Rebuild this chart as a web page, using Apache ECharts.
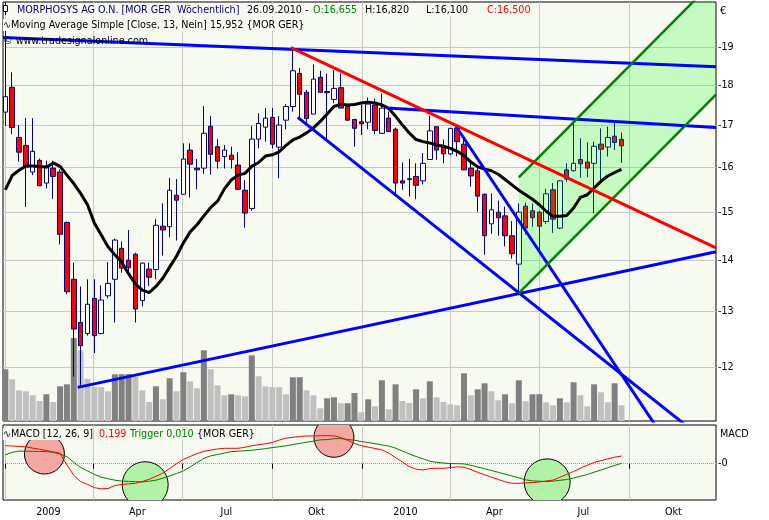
<!DOCTYPE html>
<html>
<head>
<meta charset="utf-8">
<script src="https://cdn.jsdelivr.net/npm/echarts@6.0.0/dist/echarts.min.js"></script>
<style>
html,body{margin:0;padding:0;background:#ffffff;}
#chart{width:769px;height:520px;}
</style>
</head>
<body>
<div id="chart"></div>
<script>
// ---------------- data (weekly bars, MORPHOSYS AG, MOR GER) ----------------
const firstWeek = '2009-01-01';
const open = [17.32,17.95,16.70,16.51,15.89,16.16,15.64,15.98,15.89,14.78,
  13.62,12.80,12.60,13.25,12.60,13.30,13.62,14.24,14.00,14.12,
  13.21,13.82,13.81,14.70,14.69,15.37,15.39,16.40,15.98,15.98,
  16.97,16.48,16.25,16.28,16.05,15.48,15.08,16.66,16.95,17.19,
  16.47,17.12,17.46,18.31,17.82,17.27,18.21,17.84,17.64,17.94,
  17.46,17.14,17.08,17.07,17.50,16.80,17.17,16.90,15.69,15.72,
  15.79,15.69,16.18,16.96,16.49,16.31,16.93,16.54,15.98,15.92,
  15.39,14.75,15.00,14.92,14.50,13.92,15.13,15.03,15.00,14.80,
  15.49,14.66,15.94,15.92,16.18,16.12,16.09,16.54,16.47,16.73,
  16.655];
const high = [19.49,18.34,17.00,17.17,17.17,16.20,16.15,16.15,15.95,14.80,
  13.95,13.48,13.62,13.62,13.50,13.96,14.44,14.38,14.62,14.15,
  13.95,13.95,14.85,15.19,15.76,15.73,16.56,16.56,16.19,17.47,
  17.22,16.66,16.52,16.48,16.35,15.71,16.98,17.29,17.42,17.42,
  17.22,17.52,18.98,18.45,17.88,18.55,18.38,18.31,18.40,18.31,
  17.50,17.14,17.50,17.69,17.66,17.79,17.33,16.94,16.11,16.19,
  16.09,16.33,17.23,16.96,16.65,16.93,17.02,16.68,16.11,16.03,
  15.41,15.41,15.25,15.12,14.81,15.19,15.21,15.19,15.03,15.51,
  15.64,15.71,16.09,17.11,16.68,16.58,16.60,16.92,16.96,17.05,
  16.82];
const low = [16.98,16.78,16.13,15.11,15.82,15.58,15.52,15.29,14.32,13.33,
  11.84,11.67,12.56,12.25,12.58,13.25,12.80,13.75,13.74,12.80,
  13.10,13.49,13.62,14.09,14.47,14.40,15.38,15.32,15.50,15.85,
  15.83,15.97,15.97,15.97,15.50,14.67,15.03,16.44,16.60,16.44,
  15.75,16.90,17.33,17.17,17.06,17.27,17.82,16.68,17.54,17.42,
  17.12,16.48,16.76,16.90,16.78,16.78,16.84,15.41,15.49,15.34,
  15.28,15.61,16.18,16.17,16.09,16.28,16.25,15.94,15.56,15.01,
  14.11,14.54,14.50,14.28,14.03,13.37,14.53,14.69,14.21,14.75,
  14.56,14.64,15.67,15.90,15.76,15.77,14.98,15.67,16.25,16.40,
  16.10];
const close = [17.71,16.94,16.35,16.01,16.37,15.58,16.03,15.79,14.53,13.38,
  12.68,12.38,13.14,12.56,13.22,13.54,14.41,13.84,13.85,13.05,
  13.94,13.66,14.72,14.62,15.48,15.26,16.19,16.07,15.94,16.80,
  16.30,16.14,16.40,16.18,15.50,14.98,16.66,17.04,17.17,16.54,
  17.00,17.46,18.38,17.77,17.16,18.16,17.82,17.81,17.92,17.42,
  17.12,16.92,17.03,17.52,16.87,17.42,16.84,15.64,15.64,15.74,
  15.59,16.09,16.86,16.40,16.31,16.92,16.60,15.94,15.80,15.35,
  14.50,15.05,14.88,14.50,14.13,15.00,14.66,14.88,14.70,15.40,
  14.85,15.69,15.73,16.09,16.08,15.98,16.49,16.42,16.70,16.58,
  16.50];
const volume = [517,417,307,297,257,200,267,190,347,367,
  830,707,423,340,339,297,467,468,469,440,
  307,190,347,217,427,297,487,397,327,707,
  517,357,257,267,257,247,657,447,347,340,
  339,267,437,438,307,257,127,227,237,177,
  178,280,87,217,147,407,117,367,200,180,
  317,227,397,237,190,167,157,477,257,317,
  377,297,207,267,177,407,197,267,268,187,
  157,227,187,387,257,147,367,287,187,377,
  157];
const sma13 = [15.49,15.81,15.93,16.03,16.03,16.02,16.00,16.10,16.02,15.82,
  15.63,15.41,15.16,14.77,14.52,14.27,14.11,13.96,13.73,13.53,
  13.41,13.36,13.48,13.64,13.86,14.08,14.35,14.58,14.73,14.92,
  15.10,15.24,15.51,15.71,15.82,15.86,16.02,16.11,16.26,16.29,
  16.36,16.51,16.64,16.71,16.81,16.93,17.09,17.27,17.46,17.52,
  17.50,17.51,17.55,17.57,17.55,17.50,17.41,17.22,17.00,16.81,
  16.65,16.60,16.57,16.52,16.49,16.44,16.37,16.27,16.12,16.01,
  15.96,15.92,15.84,15.72,15.60,15.48,15.38,15.28,15.16,15.02,
  14.91,14.91,14.93,15.09,15.32,15.38,15.53,15.68,15.80,15.88,
  15.952];
const macd = [0.465,0.457,0.447,0.437,0.403,0.372,0.339,0.307,0.269,-0.031,
  -0.302,-0.463,-0.537,-0.618,-0.649,-0.641,-0.561,-0.537,-0.522,-0.506,
  -0.460,-0.403,-0.326,-0.245,-0.124,-0.003,0.111,0.186,0.261,0.320,
  0.351,0.382,0.398,0.398,0.398,0.424,0.463,0.494,0.514,0.548,
  0.610,0.661,0.682,0.703,0.716,0.718,0.721,0.724,0.721,0.674,
  0.605,0.525,0.465,0.429,0.393,0.357,0.274,0.158,0.047,-0.075,
  -0.140,-0.163,-0.127,-0.119,-0.119,-0.101,-0.080,-0.090,-0.152,-0.222,
  -0.287,-0.349,-0.408,-0.468,-0.506,-0.506,-0.496,-0.486,-0.473,-0.447,
  -0.424,-0.351,-0.276,-0.202,-0.116,-0.039,0.034,0.080,0.124,0.168,
  0.199];
const trigger = [0.227,0.295,0.326,0.323,0.318,0.315,0.313,0.292,0.251,0.181,
  0.036,-0.096,-0.186,-0.276,-0.349,-0.388,-0.426,-0.450,-0.457,-0.465,
  -0.473,-0.450,-0.426,-0.375,-0.315,-0.256,-0.186,-0.083,0.028,0.140,
  0.202,0.238,0.276,0.310,0.323,0.336,0.349,0.367,0.390,0.416,
  0.439,0.463,0.494,0.525,0.553,0.584,0.615,0.623,0.643,0.649,
  0.628,0.605,0.574,0.545,0.517,0.486,0.455,0.401,0.326,0.253,
  0.186,0.127,0.065,0.036,0.016,0.005,0.000,-0.005,-0.041,-0.085,
  -0.129,-0.176,-0.222,-0.269,-0.318,-0.364,-0.416,-0.444,-0.452,-0.463,
  -0.450,-0.429,-0.408,-0.370,-0.326,-0.279,-0.220,-0.163,-0.103,-0.044,
  0.010];

// axis ticks / labels
const priceTicks = [12,13,14,15,16,17,18,19];
const quarterStarts = ['2009-01-01','2009-04-01','2009-07-01','2009-10-01','2010-01-01','2010-04-01','2010-07-01','2010-10-01'];
const quarterLabelDates = ['2009-02-14','2009-05-16','2009-08-15','2009-11-15','2010-02-14','2010-05-16','2010-08-15','2010-11-15'];
const quarterLabels = ['2009','Apr','Jul','Okt','2010','Apr','Jul','Okt'];
const xRange = ['2008-12-29T15:00:00Z','2010-12-28T15:00:00Z'];
const priceRange = [11.11, 20.29];
const volumeMax = 4190;
const macdRange = [-0.938, 1.0];

// drawn trend lines (date, price)
const blueTopLine   = [['2008-12-29T15:00:00Z',19.28],['2010-12-28T15:00:00Z',18.49]];
const blueMidLine   = [['2010-01-26',17.42],['2010-12-28T15:00:00Z',16.94]];
const blueDownLine1 = [['2009-10-27',17.19],['2010-12-02',10.99]];
const blueDownLine2 = [['2010-04-07',16.96],['2010-11-01',10.94]];
const blueUpLine    = [['2009-03-16',11.66],['2010-12-28T15:00:00Z',14.17]];
const redLine       = [['2009-10-20',19.00],['2010-12-28T15:00:00Z',14.25]];
const channelLower  = [['2010-06-10',13.35],['2010-12-28T15:00:00Z',17.76]];
const channelUpper  = [['2010-06-10',15.77],['2010-12-28T15:00:00Z',20.98]];

// MACD signal markers
const signalDates  = ['2009-02-10','2009-05-24','2009-12-03','2010-07-09'];
const signalValues = [0.25,-0.543,0.682,-0.47];
const signalKinds  = ['sell','buy','sell','buy'];

// ---------------- rendering ----------------
const T = s => Date.parse(s.length === 10 ? s + 'T00:00:00Z' : s);
const DAY = 86400000;
const dates = open.map((_, i) => T(firstWeek) + i * 7 * DAY);
const FONT = 'DejaVu Sans';
const FS = 9.6;
const GRID_COLOR = '#c8c8c8';
const PLOT_BG = '#f7faf0';
const signalStyle = {
  sell: {rx: 20, ry: 20, fill: '#f5a8a2'},
  buy:  {rx: 23, ry: 23, fill: '#b2f2a6'}
};

const qStarts = quarterStarts.map(T);
const qLabelVals = quarterLabelDates.map(T);

function xAxisFor(gridIndex, withLabels) {
  return {
    type: 'value', gridIndex: gridIndex, scale: true,
    min: T(xRange[0]), max: T(xRange[1]),
    axisLine: {show: false},
    axisTick: {show: withLabels, customValues: qStarts, length: 5, inside: false, lineStyle: {color: '#000'}},
    axisLabel: {
      show: withLabels, customValues: qLabelVals,
      formatter: function (v) { const i = qLabelVals.indexOf(v); return i >= 0 ? quarterLabels[i] : ''; },
      color: '#000', fontFamily: FONT, fontSize: FS, margin: 7
    },
    splitLine: {show: true, lineStyle: {color: GRID_COLOR, width: 1}},
    minorTick: {show: false}, minorSplitLine: {show: false}
  };
}

function trend(points, color, width) {
  return {
    type: 'line', xAxisIndex: 0, yAxisIndex: 0, z: 5, silent: true, clip: true,
    symbol: 'none', showSymbol: false,
    data: points.map(p => [T(p[0]), p[1]]),
    lineStyle: {color: color, width: width},
    emphasis: {disabled: true}
  };
}

function label(text, left, top, color, bg) {
  const t = {left: left, top: top, padding: 0, text: text,
    textStyle: {fontSize: FS, fontWeight: 'normal', color: color, fontFamily: FONT, lineHeight: 12}};
  if (bg) t.backgroundColor = bg;
  return t;
}

const option = {
  animation: false,
  backgroundColor: '#ffffff',
  textStyle: {fontFamily: FONT},
  tooltip: {show: false},
  grid: [
    {left: 3, top: 2, width: 713, height: 419, show: true, backgroundColor: PLOT_BG, borderColor: '#000', borderWidth: 1, containLabel: false},
    {left: 3, top: 425, width: 713, height: 75, show: true, backgroundColor: PLOT_BG, borderColor: '#000', borderWidth: 1, containLabel: false}
  ],
  xAxis: [xAxisFor(0, false), xAxisFor(1, true)],
  yAxis: [
    {type: 'log', gridIndex: 0, min: priceRange[0], max: priceRange[1], position: 'right',
     axisLine: {show: false}, axisTick: {show: false}, axisLabel: {show: false},
     splitLine: {show: false}, minorTick: {show: false}, minorSplitLine: {show: false}},
    {type: 'value', gridIndex: 0, min: 0, max: volumeMax, show: false, splitLine: {show: false}},
    {type: 'value', gridIndex: 1, min: macdRange[0], max: macdRange[1], show: false, splitLine: {show: false}}
  ],
  title: [
    label('MORPHOSYS AG O.N. [MOR GER  Wöchentlich]', 17, 4, '#000080', PLOT_BG),
    label('26.09.2010 -', 247, 4, '#000000', PLOT_BG),
    label('O:16,655', 313, 4, '#008000', PLOT_BG),
    label('H:16,820', 365, 4, '#000000', PLOT_BG),
    label('L:16,100', 426, 4, '#000000', PLOT_BG),
    label('C:16,500', 487, 4, '#ff0000', PLOT_BG),
    label('∿Moving Average Simple [Close, 13, Nein] 15,952 {MOR GER}', 3, 19, '#000000', PLOT_BG),
    label('© www.tradesignalonline.com', 3, 35, '#000000', null),
    label('∿MACD [12, 26, 9]', 3, 428, '#000000', PLOT_BG),
    label('0,199', 99, 428, '#ff0000', PLOT_BG),
    label('Trigger 0,010', 130, 428, '#008000', PLOT_BG),
    label('{MOR GER}', 197, 428, '#000000', PLOT_BG),
    label('€', 720, 5, '#000000', null),
    label('MACD', 720, 428, '#000000', null)
  ],
  graphic: [
    {type: 'line', z: 100, shape: {x1: 5.5, y1: 2, x2: 5.5, y2: 15}, style: {stroke: '#000080', lineWidth: 1}},
    {type: 'rect', z: 101, shape: {x: 3.5, y: 5.5, width: 4, height: 6}, style: {fill: '#ffffff', stroke: '#000080', lineWidth: 1}}
  ],
  series: [
    {type: 'line', xAxisIndex: 0, yAxisIndex: 0, z: 0, silent: true, symbol: 'none', showSymbol: false,
     data: dates.map((d, i) => [d, close[i]]), lineStyle: {opacity: 0, width: 0},
     markLine: {z: 0, silent: true, symbol: ['none', 'none'], animation: false,
       lineStyle: {color: GRID_COLOR, type: 'solid', width: 1},
       label: {show: true, position: 'end', distance: 2, formatter: p => '-' + p.value, color: '#000', fontFamily: FONT, fontSize: FS},
       emphasis: {disabled: true},
       data: priceTicks.map(v => ({yAxis: v}))}},
    {type: 'bar', xAxisIndex: 0, yAxisIndex: 1, z: 1, silent: true, barWidth: 6,
     data: volume.map((v, i) => ({value: [dates[i], v], itemStyle: {color: (i === 0 || v >= volume[i - 1]) ? '#808080' : '#c0c0c0'}}))},
    {type: 'candlestick', xAxisIndex: 0, yAxisIndex: 0, z: 2, silent: true, barWidth: 5,
     encode: {x: 0, y: [1, 2, 3, 4]},
     data: dates.map((d, i) => [d, open[i], close[i], low[i], high[i]]),
     itemStyle: {color: '#ffffff', color0: '#ff0000', borderColor: '#000080', borderColor0: '#000080', borderColorDoji: '#000080', borderWidth: 1}},
    {type: 'custom', xAxisIndex: 0, yAxisIndex: 0, z: 3, silent: true, clip: true,
     encode: {x: 0, y: 1},
     data: [[T(channelLower[0][0]), channelLower[0][1]]],
     renderItem: function (params, api) {
       const pts = [channelLower[0], channelLower[1], channelUpper[1], channelUpper[0]].map(p => api.coord([T(p[0]), p[1]]));
       return {type: 'polygon', shape: {points: pts}, style: {fill: 'rgba(0,255,0,0.2)'}};
     }},
    {type: 'line', xAxisIndex: 0, yAxisIndex: 0, z: 4, silent: true, symbol: 'none', showSymbol: false,
     data: dates.map((d, i) => [d, sma13[i]]), lineStyle: {color: '#000000', width: 3}},
    trend(blueTopLine, '#0000ff', 3),
    trend(blueMidLine, '#0000ff', 3),
    trend(blueDownLine1, '#0000ff', 3),
    trend(blueDownLine2, '#0000ff', 3),
    trend(blueUpLine, '#0000ff', 3),
    trend(channelLower, '#008000', 2.5),
    trend(channelUpper, '#008000', 2.5),
    trend(redLine, '#ff0000', 3),
    {type: 'line', xAxisIndex: 1, yAxisIndex: 2, z: 0, silent: true, symbol: 'none', showSymbol: false,
     data: dates.map((d, i) => [d, trigger[i]]), lineStyle: {opacity: 0, width: 0},
     markLine: {z: 0, silent: true, symbol: ['none', 'none'], animation: false,
       lineStyle: {color: '#a0a0a0', type: 'dotted', width: 1},
       label: {show: true, position: 'end', distance: 2, formatter: () => '-0', color: '#000', fontFamily: FONT, fontSize: FS},
       emphasis: {disabled: true},
       data: [{yAxis: 0}]}},
    {type: 'custom', xAxisIndex: 1, yAxisIndex: 2, z: 1, silent: true, clip: true,
     encode: {x: 0, y: 1},
     data: signalDates.map((d, i) => [T(d), signalValues[i], i]),
     renderItem: function (params, api) {
       const c = api.coord([api.value(0), api.value(1)]);
       const st = signalStyle[signalKinds[api.value(2)]];
       return {type: 'ellipse', shape: {cx: c[0], cy: c[1], rx: st.rx, ry: st.ry},
               style: {fill: st.fill, stroke: '#000000', lineWidth: 1}};
     }},
    {type: 'line', xAxisIndex: 1, yAxisIndex: 2, z: 2, silent: true, symbol: 'none', showSymbol: false,
     data: dates.map((d, i) => [d, trigger[i]]), lineStyle: {color: '#008000', width: 1}},
    {type: 'line', xAxisIndex: 1, yAxisIndex: 2, z: 2, silent: true, symbol: 'none', showSymbol: false,
     data: dates.map((d, i) => [d, macd[i]]), lineStyle: {color: '#ff0000', width: 1}}
  ]
};

const chart = echarts.init(document.getElementById('chart'), null, {renderer: 'canvas', width: 769, height: 520});
chart.setOption(option);
</script>
</body>
</html>
